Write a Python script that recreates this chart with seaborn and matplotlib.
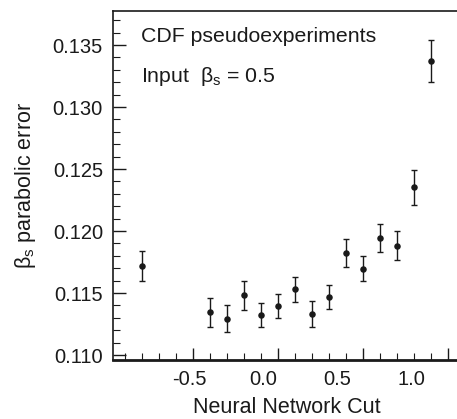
import matplotlib
matplotlib.use("Agg")
import matplotlib.pyplot as plt
import seaborn as sns
import numpy as np
import pandas as pd

# Data
nn_cut = [-0.8, -0.4, -0.3, -0.2, -0.1, 0.0, 0.1, 0.2, 0.3, 0.4, 0.5, 0.6, 0.7, 0.8, 0.9]
beta_err = [0.11719, 0.11345, 0.11292, 0.11482, 0.11321, 0.11397, 0.11531, 0.11329,
            0.11469, 0.11824, 0.11695, 0.11942, 0.11883, 0.12352, 0.13373]
beta_err_unc = [0.00121, 0.00115, 0.00110, 0.00117, 0.00097, 0.00099, 0.00101, 0.00103,
                0.00095, 0.00111, 0.00101, 0.00111, 0.00114, 0.00140, 0.00171]
x_tick_labels = [-0.5, 0.0, 0.5, 1.0]
y_ticks = [0.110, 0.115, 0.120, 0.125, 0.130, 0.135]

df = pd.DataFrame({"cut": nn_cut, "err": beta_err, "unc": beta_err_unc})

sns.set_theme(style="ticks")
plt.rcParams["font.family"] = ["Liberation Sans", "DejaVu Sans"]
plt.rcParams["mathtext.fontset"] = "custom"
plt.rcParams["mathtext.rm"] = "Liberation Sans"
plt.rcParams["mathtext.it"] = "Liberation Sans"
plt.rcParams["mathtext.default"] = "regular"

ink = "#1a1a1a"
fs = 14.5

fig = plt.figure(figsize=(4.57, 4.19), dpi=100)
ax = fig.add_axes([0.2466, 0.142, 0.7534, 0.8325])

ax.errorbar(df["cut"], df["err"], yerr=df["unc"], fmt="none", ecolor=ink,
            elinewidth=1.0, capsize=2.0, capthick=1.0, zorder=2)
sns.scatterplot(data=df, x="cut", y="err", ax=ax, color=ink, s=22,
                edgecolor=ink, linewidth=0, zorder=3, legend=False)

ax.set_xlim(-0.975, 1.05)
ax.set_ylim(0.10964, 0.13777)

# primary x: tick marks only
ax.set_xticks([-0.5, 0.0, 0.5, 1.0])
ax.set_xticklabels([])
ax.set_xticks(np.arange(-0.9, 1.05, 0.1), minor=True)
ax.set_yticks(y_ticks)
ax.set_yticklabels([f"{v:.3f}" for v in y_ticks])
ax.set_yticks(np.arange(0.110, 0.1376, 0.001), minor=True)

ax.tick_params(axis="both", which="major", direction="in", length=9, width=1.0,
               color=ink, labelcolor=ink, labelsize=fs)
ax.tick_params(axis="both", which="minor", direction="in", length=5, width=0.8, color=ink)
ax.tick_params(axis="y", which="major", pad=7)
ax.tick_params(top=False, right=False, which="both")

for side in ["left", "top"]:
    ax.spines[side].set_linewidth(1.2)
    ax.spines[side].set_color(ink)
ax.spines["bottom"].set_linewidth(2.0)
ax.spines["bottom"].set_color(ink)
ax.spines["right"].set_visible(False)

# tick labels as drawn in the reference (offset scale)
a, b = -0.0871, 0.8694
sec = ax.secondary_xaxis("bottom", functions=(lambda u: (u - a) / b, lambda v: a + b * v))
sec.set_xticks(x_tick_labels)
sec.set_xticklabels([f"{v:.1f}" for v in x_tick_labels])
sec.tick_params(length=0, labelsize=fs, labelcolor=ink, pad=7.5)
sec.spines["bottom"].set_visible(False)

ax.set_xlabel("")
ax.set_ylabel("")
fig.text(0.627, 0.028, "Neural Network Cut", ha="center", va="center",
         fontsize=fs + 1, color=ink)
fig.text(0.055, 0.558, r"β$_{\mathrm{s}}$ parabolic error", ha="center", va="center",
         rotation=90, fontsize=fs + 1, color=ink)

ax.text(0.083, 0.925, "CDF pseudoexperiments", transform=ax.transAxes,
        ha="left", va="center", fontsize=fs + 0.8, color=ink)
ax.text(0.083, 0.81, r"Input  β$_{\mathrm{s}}$ = 0.5", transform=ax.transAxes,
        ha="left", va="center", fontsize=fs + 0.8, color=ink)

fig.savefig("out.png", dpi=100)
